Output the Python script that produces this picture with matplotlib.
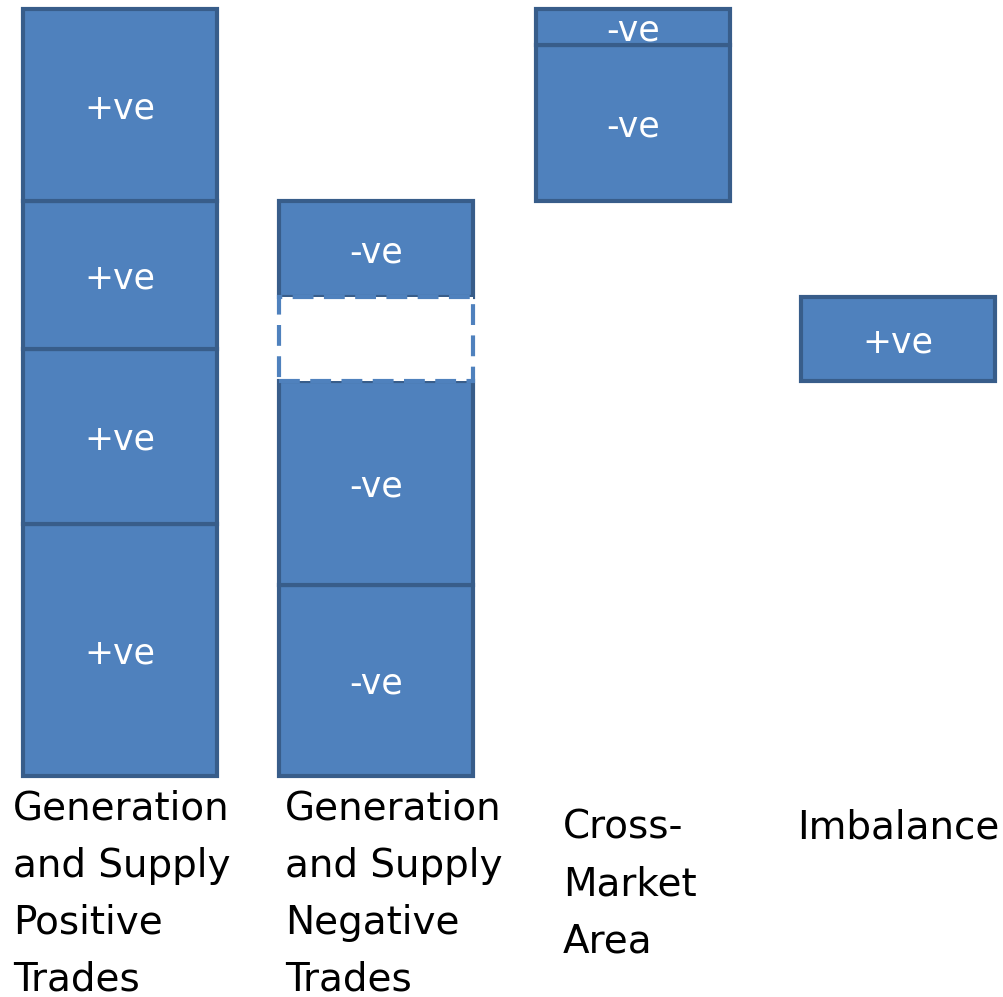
import numpy as np
import matplotlib.pyplot as plt

plt.rcParams['font.family'] = ['DejaVu Sans']

# block heights, bottom to top (arbitrary units)
positive = [25.2, 17.5, 14.8, 19.2]
negative = [19.1, 20.4, 8.4, 9.6]
negative_gap = [False, False, True, False]
cross_market = [15.6, 3.6]
imbalance = [8.4]

categories = ['Generation\nand Supply\nPositive\nTrades',
              'Generation\nand Supply\nNegative\nTrades',
              'Cross-\nMarket\nArea',
              'Imbalance']
pos_labels = ['+ve', '+ve', '+ve', '+ve']
neg_labels = ['-ve', '-ve', '', '-ve']
cross_labels = ['-ve', '-ve']
imb_labels = ['+ve']

# layout
x_pos = [0, 0.996, 1.996, 3.027]
label_x = [-0.416, 0.642, 1.724, 2.634]
label_y = [-1.4, -1.4, -3.25, -3.25]
fill = '#4F81BD'
edge = '#385D8A'
width = 0.755

fig = plt.figure(figsize=(10.04, 9.97), dpi=100)
ax = fig.add_axes([0, 0, 1, 1])
ax.set_xlim(-0.467, 3.44)
ax.set_ylim(-22.1, 77.6)
ax.axis('off')


def stack(x, heights, labels, base=0.0, gaps=None):
    bottoms = base + np.concatenate([[0], np.cumsum(heights)[:-1]])
    for k, (h, b, lab) in enumerate(zip(heights, bottoms, labels)):
        if gaps is not None and gaps[k]:
            ax.bar(x, h, width, bottom=b, color='white', edgecolor=fill,
                   linewidth=3, linestyle=(0, (5, 2.5)), zorder=3)
            continue
        ax.bar(x, h, width, bottom=b, color=fill, edgecolor=edge,
               linewidth=3, zorder=2)
        ax.text(x, b + h / 2 - 0.35, lab, color='white', fontsize=25,
                ha='center', va='center', zorder=4)
    return bottoms


stack(x_pos[0], positive, pos_labels)
stack(x_pos[1], negative, neg_labels, gaps=negative_gap)
stack(x_pos[2], cross_market, cross_labels, base=sum(negative))
# imbalance fills the gap left in the negative trades column
gap_bottom = sum(negative[:negative_gap.index(True)])
stack(x_pos[3], imbalance, imb_labels, base=gap_bottom)

for cat, lx, ly in zip(categories, label_x, label_y):
    ax.text(lx, ly, cat, fontsize=28, ha='left', va='top', linespacing=1.63,
            color='black')

fig.savefig('out.png', dpi=100)
